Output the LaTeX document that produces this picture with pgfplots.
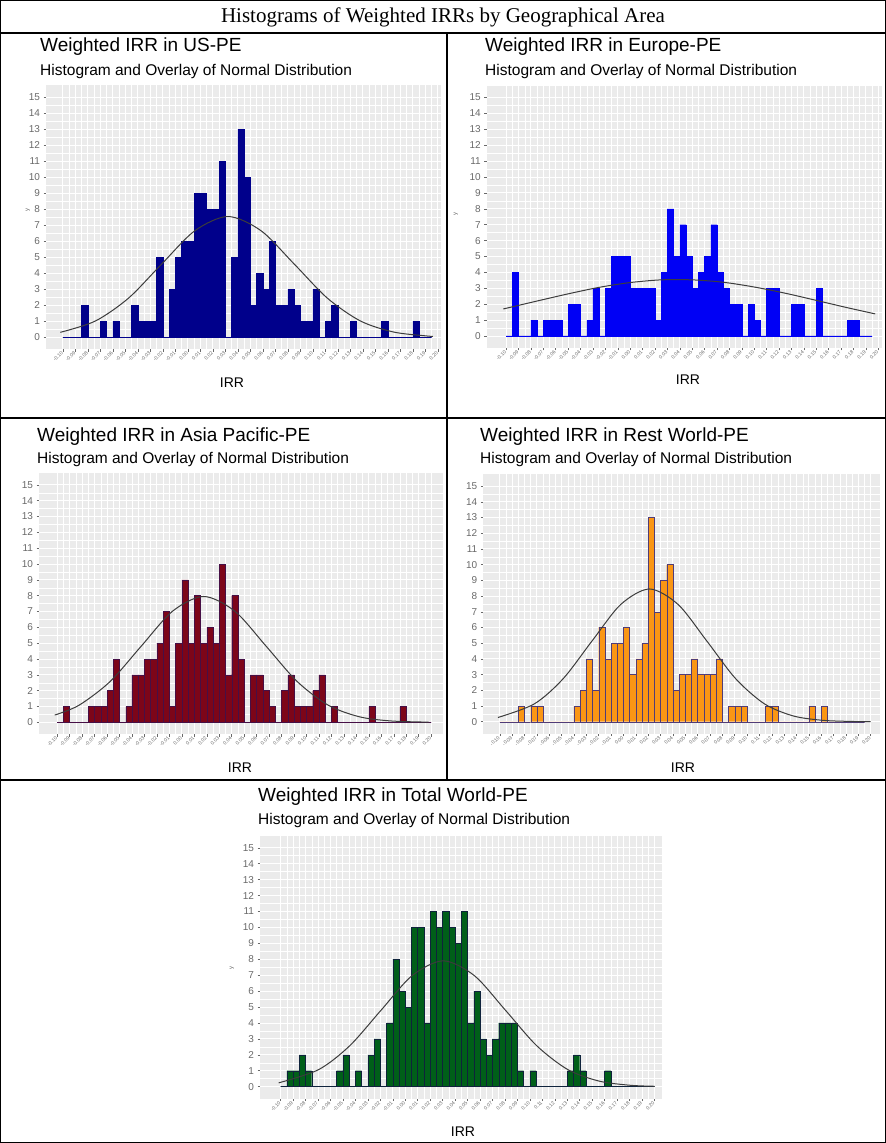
\documentclass[border=0pt]{standalone}
\usepackage{fontspec}
\setmainfont{Liberation Sans}
\newfontfamily\timesfont{Liberation Serif}
\usepackage{pgfplots}
\pgfplotsset{compat=1.18}
\definecolor{bggray}{RGB}{235,235,235}
\definecolor{tickgray}{RGB}{105,105,105}
\definecolor{curvegray}{RGB}{60,60,60}
\definecolor{usfill}{RGB}{0,0,139}
\definecolor{eufill}{RGB}{0,0,245}
\definecolor{asfill}{RGB}{125,5,25}
\definecolor{asedge}{RGB}{70,15,70}
\definecolor{rwfill}{RGB}{250,150,20}
\definecolor{rwedge}{RGB}{80,60,120}
\definecolor{twfill}{RGB}{0,95,25}
\definecolor{twedge}{RGB}{15,35,60}
\pgfplotsset{
  panel/.style={
    scale only axis, anchor=south west,
    axis background/.style={fill=bggray},
    axis line style={draw=none},
    grid=both,
    major grid style={white, line width=0.9pt},
    minor grid style={white, line width=0.45pt},
    ymin=-0.75, ymax=15.75,
    ytick={0,1,...,15}, minor y tick num=1,
    xtick={0,2,...,60}, minor x tick num=1,
    xticklabels={-0.10,-0.09,-0.08,-0.07,-0.06,-0.05,-0.04,-0.03,-0.02,-0.01,0.00,0.01,0.02,0.03,0.04,0.05,0.06,0.07,0.08,0.09,0.10,0.11,0.12,0.13,0.14,0.15,0.16,0.17,0.18,0.19,0.20},
    tick align=outside, major tick length=2.5pt, minor tick length=0pt,
    tick style={tickgray, line width=0.5pt},
    xtick pos=bottom, ytick pos=left,
    yticklabel style={font=\fontsize{10}{10}\selectfont, text=tickgray},
    xticklabel style={font=\fontsize{5}{5}\selectfont, text=tickgray, rotate=45, anchor=east, inner sep=1pt},
    /pgf/number format/assume math mode=true,
  },
  hist/.style={ybar interval, line width=0.4pt},
  normcurve/.style={smooth, curvegray, line width=1pt, no markers},
}
\tikzset{
  ptitle/.style={anchor=west, inner sep=0pt, font=\fontsize{19}{19}\selectfont},
  psub/.style={anchor=west, inner sep=0pt, font=\fontsize{15.5}{15.5}\selectfont},
  pxlab/.style={font=\fontsize{14}{14}\selectfont},
  pylab/.style={rotate=90, font=\fontsize{6}{6}\selectfont, text=tickgray},
}
\begin{document}
\begin{tikzpicture}
\path[use as bounding box] (0,0) rectangle (886pt,-1143pt);
% frame
\draw[line width=1.2pt] (0.6pt,-0.6pt) rectangle (885.4pt,-1142.4pt);
\draw[line width=1.2pt] (0,-33pt) -- (886pt,-33pt);
\draw[line width=1.2pt] (0,-418pt) -- (886pt,-418pt);
\draw[line width=1.2pt] (0,-780pt) -- (886pt,-780pt);
\draw[line width=1.2pt] (447pt,-33pt) -- (447pt,-780pt);
\node[font=\timesfont\fontsize{21}{21}\selectfont] at (443pt,-17pt) {Histograms of Weighted IRRs by Geographical Area};

% ---------- US ----------
\begin{axis}[panel, at={(46pt,-349.3pt)}, width=395pt, height=264pt, xmin=-2.7, xmax=60.5]
\addplot[hist, fill=usfill, draw=usfill] coordinates {(0,0)(1,0)(2,0)(3,2)(4,0)(5,0)(6,1)(7,0)(8,1)(9,0)(10,0)(11,2)(12,1)(13,1)(14,1)(15,5)(16,0)(17,3)(18,5)(19,6)(20,6)(21,9)(22,9)(23,8)(24,8)(25,11)(26,0)(27,5)(28,13)(29,10)(30,2)(31,4)(32,3)(33,6)(34,2)(35,2)(36,3)(37,2)(38,1)(39,1)(40,3)(41,0)(42,1)(43,2)(44,0)(45,0)(46,1)(47,0)(48,0)(49,0)(50,0)(51,1)(52,0)(53,0)(54,0)(55,0)(56,1)(57,0)(58,0)(59,0)};
\addplot[normcurve] coordinates {(-0.41,0.31)(5.21,1.02)(10.51,2.45)(15.81,4.58)(21.11,6.66)(26.41,7.55)(31.71,6.66)(37.01,4.58)(42.31,2.45)(47.61,1.02)(52.91,0.33)(58.21,0.084)(59.21,0.064)};
\end{axis}
\node[ptitle] at (40pt,-47pt) {Weighted IRR in US-PE};
\node[psub] at (40pt,-71pt) {Histogram and Overlay of Normal Distribution};
\node[pxlab] at (232pt,-383pt) {IRR};
\node[pylab] at (28pt,-210pt) {y};

% ---------- Europe ----------
\begin{axis}[panel, at={(486.7pt,-347.9pt)}, width=395.3pt, height=262.3pt, xmin=-3.13, xmax=60.6]
\addplot[hist, fill=eufill, draw=eufill] coordinates {(0,0)(1,4)(2,0)(3,0)(4,1)(5,0)(6,1)(7,1)(8,1)(9,0)(10,2)(11,2)(12,0)(13,1)(14,3)(15,0)(16,3)(17,5)(18,5)(19,5)(20,3)(21,3)(22,3)(23,3)(24,1)(25,4)(26,8)(27,5)(28,7)(29,5)(30,3)(31,4)(32,5)(33,7)(34,4)(35,3)(36,2)(37,2)(38,0)(39,2)(40,1)(41,0)(42,3)(43,3)(44,0)(45,0)(46,2)(47,2)(48,0)(49,0)(50,3)(51,0)(52,0)(53,0)(54,0)(55,1)(56,1)(57,0)(58,0)(59,0)};
\addplot[normcurve] coordinates {(-0.45,1.70)(5,2.20)(10,2.65)(15,3.06)(20,3.36)(25,3.53)(30,3.53)(35,3.38)(40,3.08)(45,2.69)(50,2.24)(55,1.78)(59.5,1.39)};
\end{axis}
\node[ptitle] at (485pt,-47pt) {Weighted IRR in Europe-PE};
\node[psub] at (485pt,-71pt) {Histogram and Overlay of Normal Distribution};
\node[pxlab] at (688pt,-380pt) {IRR};
\node[pylab] at (456pt,-214pt) {y};

% ---------- Asia Pacific ----------
\begin{axis}[panel, at={(39pt,-734.2pt)}, width=404pt, height=261.2pt, xmin=-2.92, xmax=61.9]
\addplot[hist, fill=asfill, draw=asedge] coordinates {(0,0)(1,1)(2,0)(3,0)(4,0)(5,1)(6,1)(7,1)(8,2)(9,4)(10,0)(11,1)(12,3)(13,3)(14,4)(15,4)(16,5)(17,7)(18,1)(19,5)(20,9)(21,5)(22,8)(23,5)(24,6)(25,5)(26,10)(27,3)(28,8)(29,4)(30,0)(31,3)(32,3)(33,2)(34,1)(35,0)(36,2)(37,3)(38,1)(39,1)(40,1)(41,2)(42,3)(43,0)(44,1)(45,0)(46,0)(47,0)(48,0)(49,0)(50,1)(51,0)(52,0)(53,0)(54,0)(55,1)(56,0)(57,0)(58,0)(59,0)(60,0)};
\addplot[normcurve] coordinates {(-0.4,0.46)(3.5,1.08)(8.5,2.58)(13.5,4.82)(18.5,7.02)(23.5,7.95)(28.5,7.02)(33.5,4.82)(38.5,2.58)(43.5,1.08)(48.5,0.35)(53.5,0.088)(59.6,0.012)};
\end{axis}
\node[ptitle] at (37pt,-437pt) {Weighted IRR in Asia Pacific-PE};
\node[psub] at (37pt,-459pt) {Histogram and Overlay of Normal Distribution};
\node[pxlab] at (240pt,-768pt) {IRR};

% ---------- Rest World ----------
\begin{axis}[panel, at={(483.3pt,-733.5pt)}, width=396.7pt, height=259.2pt, xmin=-2.67, xmax=61.5]
\addplot[hist, fill=rwfill, draw=rwedge] coordinates {(0,0)(1,0)(2,0)(3,1)(4,0)(5,1)(6,1)(7,0)(8,0)(9,0)(10,0)(11,0)(12,1)(13,2)(14,4)(15,2)(16,6)(17,4)(18,5)(19,5)(20,6)(21,3)(22,4)(23,5)(24,13)(25,7)(26,9)(27,10)(28,2)(29,3)(30,3)(31,4)(32,3)(33,3)(34,3)(35,4)(36,0)(37,1)(38,1)(39,1)(40,0)(41,0)(42,0)(43,1)(44,1)(45,0)(46,0)(47,0)(48,0)(49,0)(50,1)(51,0)(52,1)(53,0)(54,0)(55,0)(56,0)(57,0)(58,0)(59,0)};
\addplot[normcurve] coordinates {(-0.3,0.27)(5.6,1.14)(10.25,2.74)(14.9,5.13)(19.55,7.46)(24.2,8.45)(28.85,7.46)(33.5,5.13)(38.15,2.74)(42.8,1.14)(47.45,0.37)(52.1,0.094)(56.75,0.019)(60,0.005)};
\end{axis}
\node[ptitle] at (480pt,-437pt) {Weighted IRR in Rest World-PE};
\node[psub] at (480pt,-459pt) {Histogram and Overlay of Normal Distribution};
\node[pxlab] at (683pt,-768pt) {IRR};

% ---------- Total World ----------
\begin{axis}[panel, at={(260pt,-1098.6pt)}, width=402pt, height=262.8pt, xmin=-3.3, xmax=61.2]
\addplot[hist, fill=twfill, draw=twedge] coordinates {(0,0)(1,1)(2,1)(3,2)(4,1)(5,0)(6,0)(7,0)(8,0)(9,1)(10,2)(11,0)(12,1)(13,0)(14,2)(15,3)(16,0)(17,4)(18,8)(19,6)(20,5)(21,10)(22,10)(23,4)(24,11)(25,10)(26,11)(27,10)(28,9)(29,11)(30,4)(31,6)(32,3)(33,2)(34,3)(35,4)(36,4)(37,4)(38,1)(39,0)(40,1)(41,0)(42,0)(43,0)(44,0)(45,0)(46,1)(47,2)(48,1)(49,0)(50,0)(51,0)(52,1)(53,0)(54,0)(55,0)(56,0)(57,0)(58,0)(59,0)(60,0)};
\addplot[normcurve] coordinates {(-0.3,0.24)(6.1,1.07)(11.1,2.57)(16.1,4.79)(21.1,6.97)(26.1,7.9)(31.1,6.97)(36.1,4.79)(41.1,2.57)(46.1,1.07)(51.1,0.35)(56.1,0.087)(60,0.025)};
\end{axis}
\node[ptitle] at (258pt,-797pt) {Weighted IRR in Total World-PE};
\node[psub] at (258pt,-820pt) {Histogram and Overlay of Normal Distribution};
\node[pxlab] at (463pt,-1132pt) {IRR};
\node[pylab] at (232pt,-968pt) {y};
\end{tikzpicture}
\end{document}
